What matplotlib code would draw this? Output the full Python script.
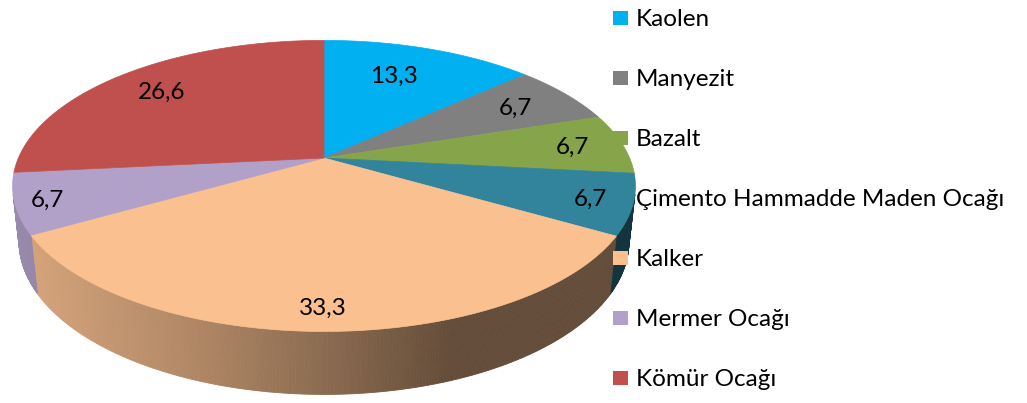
import numpy as np
import matplotlib
matplotlib.use("Agg")
import matplotlib.pyplot as plt
from matplotlib.patches import Polygon, Rectangle
from matplotlib.colors import to_rgb

# ---- data ----
categories = ["Kaolen", "Manyezit", "Bazalt", "Çimento Hammadde Maden Ocağı",
              "Kalker", "Mermer Ocağı", "Kömür Ocağı"]
values = [13.3, 6.7, 6.7, 6.7, 33.3, 6.7, 26.6]
value_labels = ["13,3", "6,7", "6,7", "6,7", "33,3", "6,7", "26,6"]
colors = ["#00B0F0", "#808080", "#86A44A", "#31849B", "#FAC090", "#B1A0C7", "#C0504D"]

# ---- style / geometry ----
label_radius = [0.72, 0.78, 0.83, 0.87, 0.88, 0.90, 0.79]
FONT = "Lato"
FS = 17.5
W, H = 1027, 403

fig = plt.figure(figsize=(W / 100, H / 100), dpi=100)
ax = fig.add_axes([0, 0, 1, 1])
ax.set_xlim(0, W)
ax.set_ylim(H, 0)
ax.axis("off")

elev = np.radians(27.3)
ce, se = np.cos(elev), np.sin(elev)
D = 4.63
F = 1415.0
thick = 0.205
cx, cy = 324.0, 158.0


def proj(theta, r=1.0, z=0.0):
    u = r * np.cos(theta)
    v = r * np.sin(theta)
    d = D + v * ce - z * se
    return cx + F * u / d, cy - F * (v * se + z * ce) / d


def shade(x):
    return np.interp(x, [20, 200, 330, 450, 1000], [0.86, 0.70, 0.55, 0.40, 0.40])


vals = np.array(values, dtype=float)
frac = vals / vals.sum()
edges = np.pi / 2 - 2 * np.pi * np.concatenate([[0], np.cumsum(frac)])

# side walls
for i, c in enumerate(colors):
    base = np.array(to_rgb(c))
    t0, t1 = edges[i], edges[i + 1]
    n = max(int(abs(t1 - t0) / np.radians(0.5)), 2)
    ts = np.linspace(t0, t1, n + 1)
    for a, b in zip(ts[:-1], ts[1:]):
        m = 0.5 * (a + b)
        if np.sin(m) >= -1.0 / (D * ce):
            continue
        xa, ya = proj(a)
        xb, yb = proj(b)
        xa2, ya2 = proj(a, z=-thick)
        xb2, yb2 = proj(b, z=-thick)
        col = np.clip(base * shade(0.25 * (xa + xb + xa2 + xb2)), 0, 1)
        ax.add_patch(Polygon([(xa, ya), (xb, yb), (xb2, yb2), (xa2, ya2)],
                             closed=True, facecolor=col, edgecolor=col,
                             linewidth=0.6, zorder=1))

# top faces
for i, c in enumerate(colors):
    t0, t1 = edges[i], edges[i + 1]
    ts = np.linspace(t0, t1, 200)
    xs, ys = proj(ts)
    pts = [(cx, cy)] + list(zip(xs, ys))
    ax.add_patch(Polygon(pts, closed=True, facecolor=c, edgecolor=c,
                         linewidth=0.5, zorder=3))

# value labels
for i, lab in enumerate(value_labels):
    m = 0.5 * (edges[i] + edges[i + 1]) + (np.radians(3) if i == 0 else 0)
    x, y = proj(m, r=label_radius[i])
    ax.text(x, y + 8, lab, ha="center", va="baseline", fontsize=FS,
            family=FONT, color="black", zorder=5)

# legend
for i, (cat, c) in enumerate(zip(categories, colors)):
    ax.add_patch(Rectangle((613, 11 + 60 * i), 15, 14, facecolor=c,
                           edgecolor="none", zorder=5))
    ax.text(636, 26 + 60 * i, cat, ha="left", va="baseline", fontsize=FS,
            family=FONT, color="black", zorder=5)

fig.savefig("out.png", dpi=100, facecolor="white")
